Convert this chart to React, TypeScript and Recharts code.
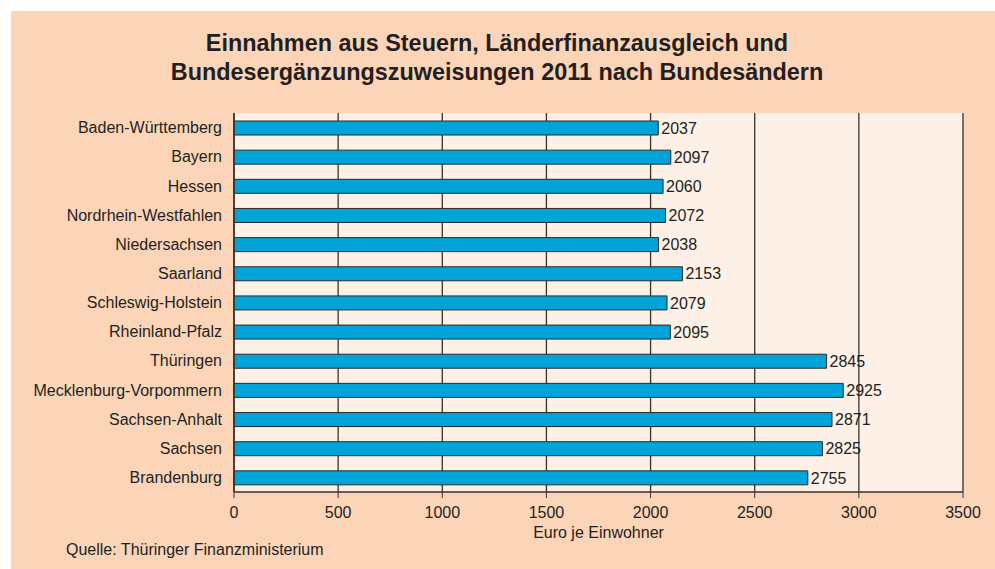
import {
  BarChart,
  Bar,
  XAxis,
  YAxis,
  CartesianGrid,
  LabelList,
} from "recharts";

const laender = [
  "Baden-Württemberg",
  "Bayern",
  "Hessen",
  "Nordrhein-Westfahlen",
  "Niedersachsen",
  "Saarland",
  "Schleswig-Holstein",
  "Rheinland-Pfalz",
  "Thüringen",
  "Mecklenburg-Vorpommern",
  "Sachsen-Anhalt",
  "Sachsen",
  "Brandenburg",
];

const euroJeEinwohner = [
  2037, 2097, 2060, 2072, 2038, 2153, 2079, 2095, 2845, 2925, 2871, 2825, 2755,
];

const xTicks = [0, 500, 1000, 1500, 2000, 2500, 3000, 3500];

const font = "'Liberation Sans', Arial, sans-serif";
const ink = "#231f20";
const line = "#3b302c";

export default function App() {
  const data = laender.map((land, i) => ({ land, wert: euroJeEinwohner[i] }));

  return (
    <div
      style={{
        position: "absolute",
        left: 0,
        top: 0,
        width: 995,
        height: 569,
        background: "#fff",
        fontFamily: font,
        overflow: "hidden",
      }}
    >
      <div
        style={{
          position: "absolute",
          left: 11,
          top: 11,
          width: 984,
          height: 558,
          background: "#fcd5b9",
        }}
      >
        <div
          style={{
            position: "absolute",
            left: 0,
            top: 18,
            width: 972,
            textAlign: "center",
            fontWeight: "bold",
            fontSize: 23.4,
            lineHeight: "29px",
            color: ink,
          }}
        >
          Einnahmen aus Steuern, Länderfinanzausgleich und
          <br />
          Bundesergänzungszuweisungen 2011 nach Bundesändern
        </div>
        <BarChart
          width={984}
          height={558}
          data={data}
          layout="vertical"
          margin={{ top: 102, right: 32, left: 0, bottom: 30 }}
          style={{ position: "absolute", left: 0, top: 0 }}
        >
          <CartesianGrid
            horizontal={false}
            vertical
            stroke={line}
            strokeWidth={1.3}
            fill="#fdf0e6"
            fillOpacity={1}
          />
          <XAxis
            type="number"
            dataKey="wert"
            domain={[0, 3500]}
            ticks={xTicks}
            interval={0}
            height={47}
            tickSize={6}
            tickMargin={9}
            stroke={line}
            axisLine={{ stroke: line, strokeWidth: 1.5 }}
            tickLine={{ stroke: line }}
            tick={{ fill: ink, fontSize: 16, fontFamily: font }}
            label={{
              value: "Euro je Einwohner",
              position: "insideBottom",
              offset: 1,
              fill: ink,
              fontSize: 16,
              fontFamily: font,
            }}
          />
          <XAxis
            xAxisId="oben"
            orientation="top"
            type="number"
            domain={[0, 3500]}
            height={0}
            tick={false}
            tickLine={false}
            axisLine={{ stroke: line, strokeWidth: 1.5 }}
          />
          <YAxis
            type="category"
            dataKey="land"
            width={223}
            tickSize={0}
            tickMargin={12}
            axisLine={{ stroke: line, strokeWidth: 1.5 }}
            tickLine={false}
            interval={0}
            tick={{ fill: ink, fontSize: 16, fontFamily: font }}
          />
          <Bar
            dataKey="wert"
            fill="#00a4d9"
            stroke="#2a2a2a"
            strokeWidth={1}
            barSize={14}
            isAnimationActive={false}
          >
            <LabelList
              dataKey="wert"
              position="right"
              offset={3}
              fill={ink}
              fontSize={16}
              fontFamily={font}
            />
          </Bar>
        </BarChart>
        <div
          style={{
            position: "absolute",
            left: 55,
            top: 530,
            fontSize: 16,
            color: ink,
          }}
        >
          Quelle: Thüringer Finanzministerium
        </div>
      </div>
    </div>
  );
}
